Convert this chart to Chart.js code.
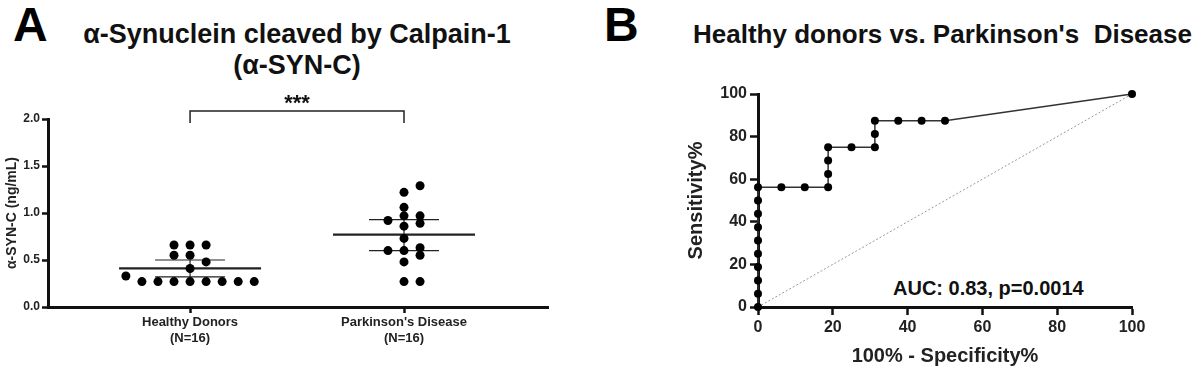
<!DOCTYPE html>
<html>
<head>
<meta charset="utf-8">
<script src="https://cdn.jsdelivr.net/npm/chart.js@4.4.1/dist/chart.umd.min.js"></script>
<style>
  body { margin: 0; width: 1200px; height: 370px; background: #fff; position: relative; overflow: hidden;
         font-family: "Liberation Sans", Arial, sans-serif; color: #111; }
  .box { position: absolute; }
  .txt { position: absolute; font-weight: bold; line-height: 1; white-space: pre; }
</style>
</head>
<body>
<div class="txt" style="left:13px;top:1px;font-size:48px;color:#000">A</div>
<div class="txt" style="left:604px;top:1px;font-size:48px;color:#000">B</div>
<div class="txt" style="left:0;width:594px;text-align:center;top:21px;font-size:27px">α-Synuclein cleaved by Calpain-1</div>
<div class="txt" style="left:0;width:594px;text-align:center;top:52px;font-size:27px">(α-SYN-C)</div>
<div class="txt" style="left:693px;top:21px;font-size:26px">Healthy donors vs. Parkinson's  Disease</div>
<div class="txt" style="left:893px;top:278px;font-size:20px">AUC: 0.83, p=0.0014</div>

<div class="box" style="left:0;top:0;width:570px;height:370px"><canvas id="chartA"></canvas></div>
<div class="box" style="left:680px;top:0;width:520px;height:370px"><canvas id="chartB"></canvas></div>

<script>
// ---- panel A data (ng/mL) ----
const groups = ['Healthy Donors', "Parkinson's Disease"];
const groupN = ['(N=16)', '(N=16)'];
const healthy = [0.27, 0.27, 0.27, 0.27, 0.27, 0.27, 0.27, 0.27, 0.33, 0.41, 0.48, 0.55, 0.55, 0.66, 0.66, 0.66];
const parkinson = [0.27, 0.27, 0.48, 0.55, 0.60, 0.60, 0.63, 0.73, 0.86, 0.89, 0.92, 0.97, 0.97, 1.06, 1.22, 1.29];
// mean, lower, upper
const healthyStats = [0.41, 0.32, 0.50];
const parkinsonStats = [0.77, 0.60, 0.93];
const yTicksA = [0, 0.5, 1.0, 1.5, 2.0];
const signif = '***';

// ---- panel B data (ROC, %) ----
const rocFpr = [0, 0, 0, 0, 0, 0, 0, 0, 0, 0, 6.25, 12.5, 18.75, 18.75, 18.75, 18.75, 25, 31.25, 31.25, 31.25, 37.5, 43.75, 50, 100];
const rocTpr = [0, 6.25, 12.5, 18.75, 25, 31.25, 37.5, 43.75, 50, 56.25, 56.25, 56.25, 56.25, 62.5, 68.75, 75, 75, 75, 81.25, 87.5, 87.5, 87.5, 87.5, 100];
const chanceLine = [0, 100];
const ticksB = [0, 20, 40, 60, 80, 100];

const INK = '#111';
const boldFont = (size) => ({ family: '"Liberation Sans", Arial, sans-serif', size: size, weight: 'bold' });

// simple grid beeswarm: stack dots that are too close in value into side columns
function swarm(values, center) {
  const SLOT = 0.075, GAP = 0.075;
  const placed = [];
  return values.slice().sort((a, b) => a - b).map(v => {
    for (let k = 0; ; k++) {
      const slot = k === 0 ? 0 : (k % 2 ? (k + 1) / 2 : -k / 2);
      if (!placed.some(p => p.slot === slot && Math.abs(p.v - v) < GAP)) {
        placed.push({ v: v, slot: slot });
        return { x: center + slot * SLOT, y: v };
      }
    }
  });
}

// mean +/- error bars and significance bracket
const statsPlugin = {
  id: 'stats',
  beforeDatasetsDraw(chart) {
    const { ctx, scales: { x, y } } = chart;
    ctx.save();
    ctx.strokeStyle = '#222';
    [healthyStats, parkinsonStats].forEach((s, i) => {
      const cx = x.getPixelForValue(i + 1);
      const m = y.getPixelForValue(s[0]), lo = y.getPixelForValue(s[1]), hi = y.getPixelForValue(s[2]);
      ctx.lineWidth = 2.2;
      ctx.beginPath(); ctx.moveTo(cx - 71, m); ctx.lineTo(cx + 71, m); ctx.stroke();
      ctx.lineWidth = 1.2;
      ctx.beginPath();
      ctx.moveTo(cx - 35, lo); ctx.lineTo(cx + 35, lo);
      ctx.moveTo(cx - 35, hi); ctx.lineTo(cx + 35, hi);
      ctx.moveTo(cx, lo); ctx.lineTo(cx, hi);
      ctx.stroke();
    });
    ctx.restore();
  },
  afterDraw(chart) {
    const { ctx, scales: { x }, chartArea } = chart;
    const x1 = x.getPixelForValue(1), x2 = x.getPixelForValue(2);
    const top = chartArea.top - 8;
    ctx.save();
    ctx.strokeStyle = '#222';
    ctx.lineWidth = 1.5;
    ctx.beginPath();
    ctx.moveTo(x1, top + 12); ctx.lineTo(x1, top); ctx.lineTo(x2, top); ctx.lineTo(x2, top + 12);
    ctx.stroke();
    ctx.fillStyle = INK;
    ctx.font = 'bold 22px "Liberation Sans", Arial, sans-serif';
    ctx.textAlign = 'center';
    ctx.textBaseline = 'alphabetic';
    ctx.fillText(signif, (x1 + x2) / 2, top - 1);
    ctx.restore();
  }
};

new Chart(document.getElementById('chartA'), {
  type: 'scatter',
  data: {
    datasets: [
      { data: swarm(healthy, 1) },
      { data: swarm(parkinson, 2) }
    ]
  },
  options: {
    responsive: true,
    maintainAspectRatio: false,
    animation: false,
    layout: { padding: { top: 119, right: 22, left: 0, bottom: 0 } },
    elements: { point: { radius: 4.5, backgroundColor: '#000', borderWidth: 0, hoverRadius: 4.5 } },
    plugins: { legend: { display: false }, tooltip: { enabled: false } },
    scales: {
      x: {
        type: 'linear', min: 0.336, max: 2.673,
        afterBuildTicks: (s) => { s.ticks = [{ value: 1 }, { value: 2 }]; },
        afterFit: (s) => { s.height = 63; },
        ticks: {
          callback: (v) => [groups[v - 1], groupN[v - 1]],
          font: boldFont(13), color: '#222', padding: 2, maxRotation: 0, autoSkip: false
        },
        grid: { drawOnChartArea: false, drawTicks: true, tickLength: 6, tickWidth: 2.5, tickColor: INK },
        border: { color: INK, width: 3 }
      },
      y: {
        min: 0, max: 2,
        afterBuildTicks: (s) => { s.ticks = yTicksA.map(v => ({ value: v })); },
        afterFit: (s) => { s.width = 48; },
        ticks: { callback: (v) => v.toFixed(1), font: boldFont(12), color: '#222', padding: 2 },
        grid: { drawOnChartArea: false, drawTicks: true, tickLength: 6, tickWidth: 2.5, tickColor: INK },
        border: { color: INK, width: 3 },
        title: { display: true, text: 'α-SYN-C (ng/mL)', font: boldFont(14), color: '#222', padding: 4 }
      }
    }
  },
  plugins: [statsPlugin]
});

new Chart(document.getElementById('chartB'), {
  type: 'scatter',
  data: {
    datasets: [
      {
        data: rocFpr.map((fx, i) => ({ x: fx, y: rocTpr[i] })),
        showLine: true, borderColor: '#333', borderWidth: 1.5,
        pointRadius: 4, pointBackgroundColor: '#000', pointBorderWidth: 0, clip: false
      },
      {
        data: chanceLine.map(v => ({ x: v, y: v })),
        showLine: true, borderColor: '#999', borderWidth: 1, borderDash: [2, 2],
        pointRadius: 0, clip: false
      }
    ]
  },
  options: {
    responsive: true,
    maintainAspectRatio: false,
    animation: false,
    layout: { padding: { top: 94, right: 68, left: 0, bottom: 0 } },
    plugins: { legend: { display: false }, tooltip: { enabled: false } },
    scales: {
      x: {
        type: 'linear', min: 0, max: 100,
        afterBuildTicks: (s) => { s.ticks = ticksB.map(v => ({ value: v })); },
        afterFit: (s) => { s.height = 63; },
        ticks: { font: boldFont(16), color: '#222', padding: 3, maxRotation: 0 },
        grid: { drawOnChartArea: false, drawTicks: true, tickLength: 8, tickWidth: 2.5, tickColor: INK },
        border: { color: INK, width: 3 },
        title: { display: true, text: '100% - Specificity%', font: boldFont(20), color: '#222', padding: { top: 2, bottom: 2 } }
      },
      y: {
        min: 0, max: 100,
        afterBuildTicks: (s) => { s.ticks = ticksB.map(v => ({ value: v })); },
        afterFit: (s) => { s.width = 78; },
        ticks: { font: boldFont(16), color: '#222', padding: 3 },
        grid: { drawOnChartArea: false, drawTicks: true, tickLength: 8, tickWidth: 2.5, tickColor: INK },
        border: { color: INK, width: 3 },
        title: { display: true, text: 'Sensitivity%', font: boldFont(20), color: '#222', padding: 4 }
      }
    }
  }
});
</script>
</body>
</html>
